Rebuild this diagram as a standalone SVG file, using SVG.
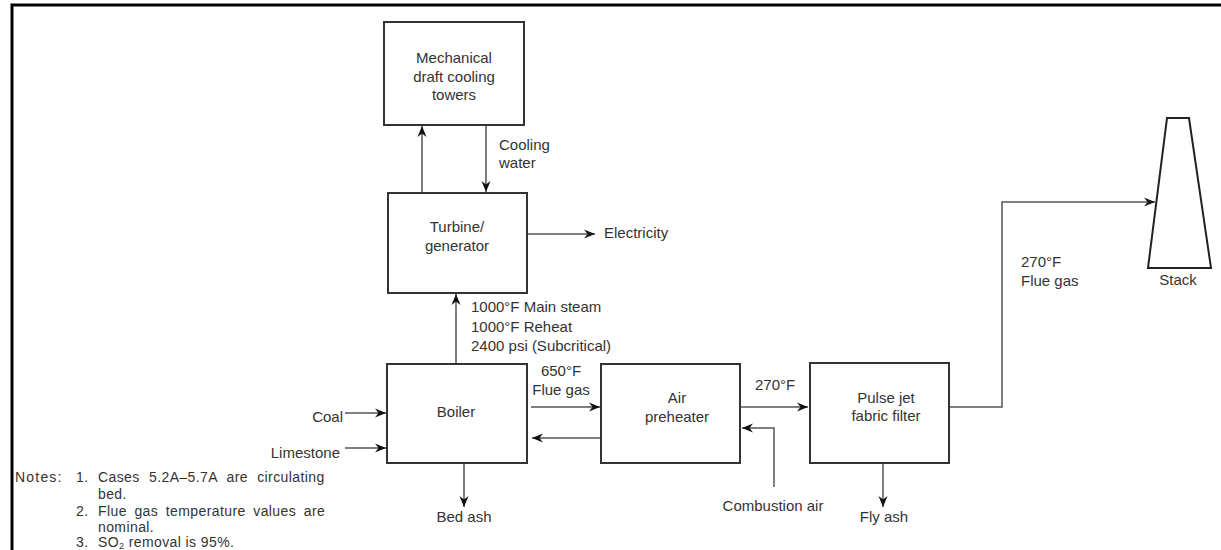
<svg xmlns="http://www.w3.org/2000/svg" width="1221" height="550" viewBox="0 0 1221 550">
<style>
.box{fill:#fff;stroke:#333;stroke-width:2}
.ln{fill:none;stroke:#555;stroke-width:1.5}
.t{font-family:"Liberation Sans",Arial,sans-serif;font-size:15px;fill:#333}
.n{font-family:"Liberation Sans",Arial,sans-serif;font-size:14px;fill:#333;letter-spacing:0.4px}
.c{text-anchor:middle}
</style>
<defs>
<marker id="ah" markerUnits="userSpaceOnUse" markerWidth="12" markerHeight="10" refX="11" refY="5" orient="auto">
<path d="M0,0.5 L11,5 L0,9.5 L3.5,5 z" fill="#111"/>
</marker>
</defs>
<rect width="1221" height="550" fill="#fff"/>
<g id="frame"><path d="M12,550 V5 H1221" fill="none" stroke="#000" stroke-width="3"/></g>

<g id="connectors">
<path class="ln" d="M422,193 V126" marker-end="url(#ah)"/>
<path class="ln" d="M486,125 V192" marker-end="url(#ah)"/>
<path class="ln" d="M527,234 H595" marker-end="url(#ah)"/>
<path class="ln" d="M456,364 V294" marker-end="url(#ah)"/>
<path class="ln" d="M531,407 H600" marker-end="url(#ah)"/>
<path class="ln" d="M601,438 H532" marker-end="url(#ah)"/>
<path class="ln" d="M740,407 H808" marker-end="url(#ah)"/>
<path class="ln" d="M774,487 V428 H742" marker-end="url(#ah)"/>
<path class="ln" d="M464,463 V507" marker-end="url(#ah)"/>
<path class="ln" d="M345,413 H386" marker-end="url(#ah)"/>
<path class="ln" d="M345,448 H386" marker-end="url(#ah)"/>
<path class="ln" d="M883,463 V507" marker-end="url(#ah)"/>
<path class="ln" d="M949,407 H1002 V202 H1155" marker-end="url(#ah)"/>
</g>

<g id="cooling-towers">
<rect class="box" x="384" y="22" width="140" height="103"/>
<text class="t c" x="454" y="63">Mechanical</text>
<text class="t c" x="454" y="82">draft cooling</text>
<text class="t c" x="454" y="100">towers</text>
</g>
<g id="cooling-water-label"><text class="t" x="499" y="150">Cooling</text><text class="t" x="499" y="168">water</text></g>

<g id="turbine">
<rect class="box" x="388" y="193" width="139" height="100"/>
<text class="t c" x="457" y="232">Turbine/</text>
<text class="t c" x="457" y="251">generator</text>
</g>
<g id="electricity"><text class="t" x="604" y="238">Electricity</text></g>

<g id="steam-label">
<text class="t" x="471" y="312">1000°F Main steam</text>
<text class="t" x="471" y="332">1000°F Reheat</text>
<text class="t" x="471" y="351">2400 psi (Subcritical)</text>
</g>

<g id="boiler">
<rect class="box" x="387" y="364" width="140" height="99"/>
<text class="t c" x="456" y="417">Boiler</text>
</g>
<g id="flue650"><text class="t c" x="561" y="376">650°F</text><text class="t c" x="561" y="395">Flue gas</text></g>

<g id="coal"><text class="t" x="343" y="422" text-anchor="end">Coal</text></g>
<g id="limestone"><text class="t" x="340" y="458" text-anchor="end">Limestone</text></g>
<g id="bed-ash"><text class="t c" x="464" y="522">Bed ash</text></g>

<g id="air-preheater">
<rect class="box" x="601" y="364" width="139" height="99"/>
<text class="t c" x="677" y="403">Air</text>
<text class="t c" x="677" y="422">preheater</text>
</g>
<g id="t270"><text class="t" x="755" y="390">270°F</text></g>
<g id="combustion-air"><text class="t c" x="773" y="511">Combustion air</text></g>

<g id="fabric-filter">
<rect class="box" x="810" y="363" width="139" height="100"/>
<text class="t c" x="886" y="403">Pulse jet</text>
<text class="t c" x="886" y="421">fabric filter</text>
</g>
<g id="fly-ash"><text class="t c" x="884" y="522">Fly ash</text></g>
<g id="flue270"><text class="t" x="1021" y="267">270°F</text><text class="t" x="1021" y="286">Flue gas</text></g>

<g id="stack">
<path d="M1167,118 H1189 L1211,268 H1148 Z" fill="#fff" stroke="#222" stroke-width="2"/>
<text class="t c" x="1178" y="285">Stack</text>
</g>

<g id="notes">
<text class="n" x="15" y="482" style="letter-spacing:1.2px">Notes:</text>
<text class="n" x="76" y="482">1.</text>
<text class="n" x="98" y="482" word-spacing="5">Cases 5.2A–5.7A are circulating</text>
<text class="n" x="98" y="499">bed.</text>
<text class="n" x="76" y="516">2.</text>
<text class="n" x="98" y="516" word-spacing="3.3">Flue gas temperature values are</text>
<text class="n" x="98" y="532">nominal.</text>
<text class="n" x="76" y="547">3.</text>
<text class="n" x="98" y="547">SO<tspan font-size="9" dy="2">2</tspan><tspan dy="-2"> removal is 95%.</tspan></text>
</g>
</svg>
